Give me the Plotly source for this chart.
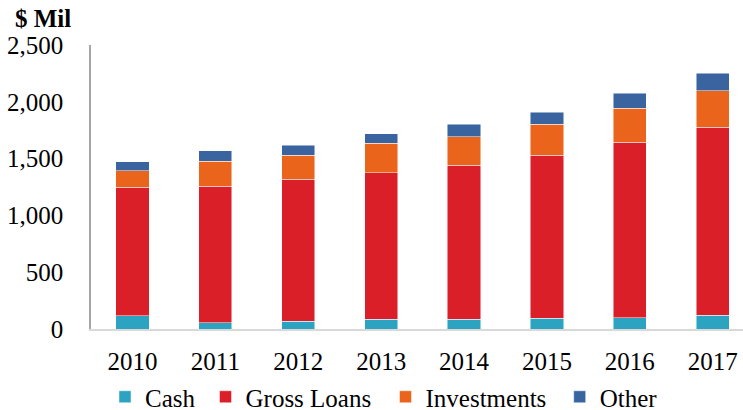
import plotly.graph_objects as go

years = ["2010", "2011", "2012", "2013", "2014", "2015", "2016", "2017"]
cash = [115, 53, 70, 88, 88, 94, 97, 123]
gross_loans = [1133, 1205, 1247, 1287, 1352, 1437, 1546, 1652]
investments = [145, 218, 214, 259, 252, 273, 299, 322]
other = [79, 93, 85, 85, 112, 106, 132, 153]

series = [
    ("Cash", cash, "#2BA3C1"),
    ("Gross Loans", gross_loans, "#DA1F29"),
    ("Investments", investments, "#EB641C"),
    ("Other", other, "#3A64A0"),
]

font_family = "Liberation Serif"
FS = 25

legend_ids = ["legend", "legend2", "legend3", "legend4"]
legend_left_px = [105, 205.5, 385.5, 559.7]

fig = go.Figure()
for (name, vals, color), lid in zip(series, legend_ids):
    fig.add_trace(go.Bar(
        x=years, y=vals, name=name, legend=lid,
        marker=dict(color=color, line=dict(color="rgba(255,255,255,0.6)", width=0.8)),
    ))

layout_legends = {}
for lid, lx in zip(legend_ids, legend_left_px):
    layout_legends[lid] = dict(
        orientation="h", xref="container", yref="container",
        x=lx / 743, xanchor="left", y=1 - 397 / 410, yanchor="middle",
        font=dict(family=font_family, size=FS, color="black"),
        itemclick=False, itemdoubleclick=False,
        bgcolor="rgba(0,0,0,0)", borderwidth=0,
    )

fig.update_layout(
    barmode="stack",
    bargap=0.6,
    width=743, height=410,
    margin=dict(l=91, r=0, t=45, b=81, autoexpand=False),
    paper_bgcolor="white",
    plot_bgcolor="white",
    font=dict(family=font_family, size=FS, color="black"),
    showlegend=True,
    annotations=[dict(
        text="<b>$ Mil</b>", xref="paper", yref="paper",
        x=(13 - 91) / 652, y=1 + (45 - 18) / 284,
        showarrow=False, xanchor="left", yanchor="middle",
        font=dict(family=font_family, size=FS, color="black"),
    )],
    **layout_legends,
)

fig.update_xaxes(
    type="category",
    range=[-0.5, 7.365],
    showline=True, linecolor="#D9D9D9", linewidth=2,
    ticks="", showgrid=False,
    tickfont=dict(family=font_family, size=FS),
    ticklabelstandoff=9,
)
fig.update_yaxes(
    range=[0, 2500],
    tickvals=[0, 500, 1000, 1500, 2000, 2500],
    ticktext=["0", "500", "1,000", "1,500", "2,000", "2,500"],
    showline=True, linecolor="#A6A6A6", linewidth=1.5,
    showgrid=False, zeroline=False, ticks="",
    tickfont=dict(family=font_family, size=FS),
    ticklabelstandoff=21,
)

fig.write_html(
    "out.html",
    config={"displayModeBar": False},
    post_script="document.body.style.margin='0';",
)
